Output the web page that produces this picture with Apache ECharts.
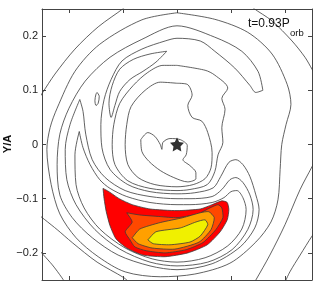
<!DOCTYPE html>
<html><head><meta charset="utf-8">
<script src="https://cdn.jsdelivr.net/npm/echarts@6/dist/echarts.min.js"></script>
<style>html,body{margin:0;padding:0;background:#fff}#c{width:316px;height:287px}</style>
</head><body><div id="c"></div>
<script>
// Axis range (X/A, Y/A)
const axisMin = -0.25, axisMax = 0.25;
const titleMain = 't=0.93P', titleSub = 'orb';
const yName = 'Y/A';

// Contour lines, [X/A, Y/A]
const O1 = [[-0.257,0.083],[-0.25,0.094],[-0.226,0.130],[-0.189,0.176],[-0.146,0.217],[-0.098,0.252],[-0.087,0.263]];
const O2 = [[0.131,0.263],[0.141,0.252],[0.176,0.228],[0.213,0.191],[0.237,0.161],[0.25,0.139],[0.261,0.120]];
const O3 = [[-0.261,-0.126],[-0.222,-0.157],[-0.194,-0.181],[-0.148,-0.217],[-0.098,-0.246],[-0.087,-0.256]];
const O3b = [[-0.259,-0.191],[-0.231,-0.222],[-0.213,-0.246],[-0.206,-0.257]];
const O4 = [[0.261,-0.019],[0.25,-0.041],[0.228,-0.083],[0.2,-0.148],[0.172,-0.204],[0.146,-0.25],[0.139,-0.261]];
const O4b = [[0.261,-0.154],[0.25,-0.169],[0.228,-0.204],[0.209,-0.235],[0.2,-0.254]];
const R1 = [[0,0.243],[0.070,0.231],[0.131,0.207],[0.176,0.167],[0.204,0.111],[0.211,0.074],[0.202,0.037],[0.194,0],[0.191,-0.046],[0.187,-0.102],[0.174,-0.143],[0.146,-0.180],[0.098,-0.219],[0.033,-0.239],[-0.031,-0.244],[-0.096,-0.235],[-0.146,-0.207],[-0.187,-0.172],[-0.217,-0.128],[-0.233,-0.074],[-0.241,-0.009],[-0.235,0.031],[-0.222,0.067],[-0.189,0.135],[-0.143,0.185],[-0.065,0.230],[0,0.243]];
const R2 = [[0.159,0.1],[0.150,0.135],[0.120,0.172],[0.070,0.198],[0,0.219],[-0.065,0.194],[-0.124,0.161],[-0.170,0.117],[-0.2,0.067],[-0.217,0.019],[-0.222,-0.037],[-0.217,-0.093],[-0.194,-0.135],[-0.157,-0.172],[-0.109,-0.204],[-0.05,-0.224],[0,-0.231],[0.065,-0.220],[0.117,-0.189],[0.144,-0.154],[0.152,-0.120],[0.146,-0.093],[0.135,-0.059],[0.122,-0.037],[0.109,-0.028],[0.096,-0.033],[0.081,-0.059],[0.067,-0.080],[0.033,-0.089],[0,-0.091],[-0.05,-0.087],[-0.091,-0.074],[-0.124,-0.046],[-0.139,-0.006],[-0.141,0.037],[-0.135,0.083],[-0.122,0.120],[-0.102,0.154],[-0.065,0.176],[-0.022,0.191],[0,0.196],[0.043,0.191],[0.070,0.172],[0.107,0.141],[0.135,0.109],[0.146,0.096],[0.159,0.1]];
const A3 = [[-0.180,0.083],[-0.198,0.037],[-0.207,-0.009],[-0.204,-0.065],[-0.187,-0.111],[-0.152,-0.157],[-0.106,-0.193],[-0.05,-0.217],[0,-0.224],[0.057,-0.217],[0.102,-0.194],[0.131,-0.157],[0.141,-0.120],[0.135,-0.093],[0.122,-0.070],[0.109,-0.061],[0.098,-0.065],[0.083,-0.083],[0.065,-0.096],[0.024,-0.1],[0,-0.1],[-0.05,-0.096],[-0.096,-0.085],[-0.133,-0.061],[-0.157,-0.028],[-0.169,0.019],[-0.174,0.061],[-0.180,0.083]];
const A4 = [[-0.181,0.024],[-0.189,-0.019],[-0.187,-0.074],[-0.172,-0.117],[-0.143,-0.156],[-0.096,-0.191],[-0.046,-0.211],[0,-0.217],[0.052,-0.209],[0.094,-0.187],[0.120,-0.156],[0.128,-0.120],[0.122,-0.098],[0.111,-0.085],[0.1,-0.087],[0.087,-0.098],[0.065,-0.107],[0.024,-0.111],[0,-0.111],[-0.05,-0.107],[-0.093,-0.096],[-0.124,-0.081],[-0.143,-0.065],[-0.161,-0.037],[-0.174,-0.006],[-0.181,0.024]];
const H = [[-0.019,0.172],[-0.05,0.167],[-0.081,0.157],[-0.106,0.139],[-0.120,0.109],[-0.126,0.076],[-0.122,0.05],[-0.115,0.072],[-0.106,0.098],[-0.087,0.120],[-0.063,0.135],[-0.039,0.152],[-0.019,0.172]];
const I3 = [[0,0.146],[0.052,0.137],[0.070,0.128],[0.094,0.104],[0.083,0.085],[0.089,0.065],[0.083,0.031],[0.085,0.004],[0.076,-0.019],[0.070,-0.05],[0.056,-0.074],[0.024,-0.083],[0,-0.085],[-0.05,-0.081],[-0.091,-0.067],[-0.115,-0.037],[-0.120,0],[-0.117,0.037],[-0.106,0.076],[-0.081,0.109],[-0.054,0.133],[-0.026,0.146],[0,0.146]];
const I2 = [[0,0.113],[0.019,0.111],[0.028,0.091],[0.020,0.072],[0.028,0.05],[0.046,0.043],[0.057,0.022],[0.065,-0.015],[0.063,-0.043],[0.052,-0.063],[0.030,-0.074],[0,-0.078],[-0.041,-0.074],[-0.072,-0.061],[-0.091,-0.037],[-0.096,0],[-0.093,0.037],[-0.085,0.070],[-0.059,0.1],[-0.031,0.115],[0,0.113]];
const I1 = [[-0.067,0.009],[-0.054,0.022],[-0.041,0.015],[-0.031,0],[-0.028,-0.009],[-0.026,0.004],[-0.013,0.011],[0.006,0.009],[0.019,-0.002],[0.017,-0.019],[0.011,-0.028],[0.024,-0.039],[0.035,-0.052],[0.035,-0.063],[0.020,-0.069],[-0.006,-0.061],[-0.031,-0.048],[-0.052,-0.031],[-0.065,-0.013],[-0.067,0.009]];
const islet = [[-0.148,0.096],[-0.144,0.089],[-0.146,0.076],[-0.150,0.072],[-0.152,0.081],[-0.150,0.093],[-0.148,0.096]];

// Filled levels (outer to inner)
const red = [[-0.137,-0.081],[-0.126,-0.087],[-0.107,-0.1],[-0.083,-0.111],[-0.05,-0.119],[0,-0.122],[0.043,-0.119],[0.065,-0.111],[0.083,-0.104],[0.093,-0.107],[0.096,-0.120],[0.093,-0.139],[0.080,-0.161],[0.056,-0.185],[0.020,-0.200],[-0.022,-0.207],[-0.063,-0.204],[-0.093,-0.191],[-0.113,-0.174],[-0.124,-0.150],[-0.131,-0.124],[-0.135,-0.100],[-0.137,-0.081]];
const redOrange = [[-0.093,-0.126],[-0.069,-0.130],[-0.031,-0.133],[0,-0.135],[0.039,-0.128],[0.061,-0.117],[0.076,-0.111],[0.083,-0.117],[0.085,-0.135],[0.072,-0.157],[0.048,-0.181],[0.017,-0.194],[-0.022,-0.2],[-0.057,-0.196],[-0.078,-0.189],[-0.087,-0.176],[-0.096,-0.161],[-0.083,-0.143],[-0.093,-0.126]];
const orange = [[-0.083,-0.172],[-0.069,-0.156],[-0.031,-0.144],[0.011,-0.135],[0.043,-0.126],[0.059,-0.124],[0.069,-0.135],[0.063,-0.157],[0.041,-0.180],[-0.004,-0.193],[-0.046,-0.191],[-0.072,-0.183],[-0.083,-0.172]];
const yellow = [[-0.054,-0.176],[-0.039,-0.161],[0.006,-0.154],[0.035,-0.143],[0.052,-0.139],[0.057,-0.148],[0.043,-0.169],[0.024,-0.180],[-0.013,-0.185],[-0.044,-0.183],[-0.054,-0.176]];
const starPos = [[0,0]];

const lineSets = [O1,O2,O3,O3b,O4,O4b,R1,R2,A3,A4,H,I3,I2,I1,islet];
const fillSets = [[red,'#ff0000'],[redOrange,'#ff4800'],[orange,'#ffa000'],[yellow,'#f0f000']];

const LINE = '#3a3a3a', FRAME = '#444';
const font = 'Liberation Sans, Arial, Helvetica, sans-serif';
const chart = echarts.init(document.getElementById('c'), null, {renderer:'canvas'});

function fmt(v){ if (Math.abs(v) < 1e-9) return '0'; return (v<0?'\u2212':'') + Math.abs(v).toFixed(1); }
const axBase = (pos, showLabel) => ({
  type:'value', min:axisMin, max:axisMax, position:pos, splitNumber:5,
  axisLine:{show:true, onZero:false, lineStyle:{color:FRAME, width:1}},
  axisTick:{show:true, inside:true, length:4, lineStyle:{color:FRAME}},
  splitLine:{show:false},
  axisLabel:{show:showLabel, showMinLabel:false, showMaxLabel:false, formatter:fmt, margin:4, fontSize:11, color:'#222', fontFamily:font}
});

const series = [];
fillSets.forEach(([poly,col]) => {
  series.push({type:'custom', clip:true, silent:true, z:2, data:[[0,0]],
    renderItem:(p,api)=>({type:'polygon', shape:{points:poly.map(pt=>api.coord(pt)), smooth:0.2},
      style:{fill:col, stroke:LINE, lineWidth:0.8}})});
});
lineSets.forEach(d => {
  series.push({type:'line', data:d, showSymbol:false, smooth:0.3, clip:true, silent:true, z:3,
    lineStyle:{color:LINE, width:0.8}});
});
series.push({type:'scatter', data:starPos, z:5, silent:true,
  symbol:'path://M0,-10L2.94,-4.05L9.51,-3.09L4.76,1.55L5.88,8.09L0,5L-5.88,8.09L-4.76,1.55L-9.51,-3.09L-2.94,-4.05Z',
  symbolSize:14, itemStyle:{color:'#000'}});

chart.setOption({
  animation:false,
  grid:{left:42, top:9, width:270, height:271, containLabel:false, outerBoundsMode:'none'},
  xAxis:[axBase('bottom', false), axBase('top', false)],
  yAxis:[axBase('left', true), axBase('right', false)],
  series: series,
  graphic:[
    {type:'text', x:8, y:144, rotation:Math.PI/2, z:10,
      style:{text:yName, font:'bold 11px '+font, fill:'#111', align:'center', verticalAlign:'middle'}},
    {type:'text', left:248, top:18, z:10, style:{text:titleMain, font:'12px '+font, fill:'#111'}},
    {type:'text', left:290, top:28, z:10, style:{text:titleSub, font:'9.5px '+font, fill:'#111'}}
  ]
});
</script></body></html>
